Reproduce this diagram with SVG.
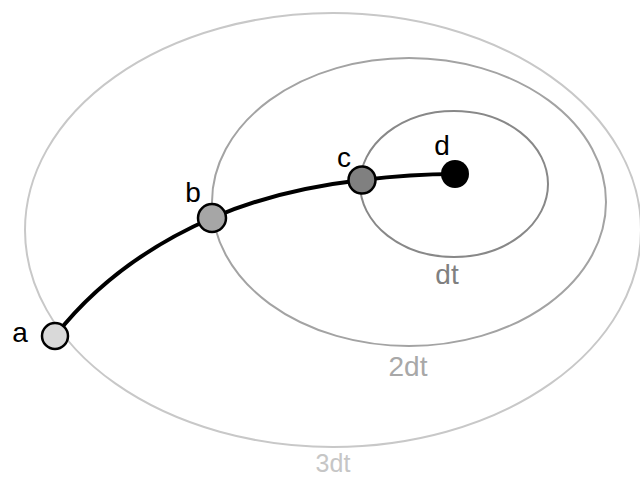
<svg xmlns="http://www.w3.org/2000/svg" width="640" height="479" viewBox="0 0 640 479">
<style>
.ring{fill:none;stroke-width:2}
.lbl{font-family:"Liberation Sans",Arial,sans-serif;font-size:28px;text-anchor:middle}
.node{stroke:#000;stroke-width:2.5}
</style>
<rect width="640" height="479" fill="#fff"/>
<g id="rings">
<ellipse class="ring" cx="333" cy="230" rx="308" ry="217" stroke="#c8c8c8"/>
<ellipse class="ring" cx="409" cy="202" rx="197" ry="144" stroke="#a3a3a3"/>
<ellipse class="ring" cx="454" cy="184" rx="94" ry="73" stroke="#888"/>
<text class="lbl" x="447" y="284" fill="#808080">dt</text>
<text class="lbl" x="408" y="376" fill="#a8a8a8">2dt</text>
<text class="lbl" x="333" y="472" fill="#c6c6c6" style="font-size:25px">3dt</text>
</g>
<g id="connectors">
<path d="M55,336 C95,285 150,245 212,218 C260,197 310,186 362,180 C395,176 425,174 455,174" fill="none" stroke="#000" stroke-width="4"/>
</g>
<g id="a"><circle class="node" cx="55" cy="336" r="13" fill="#d9d9d9"/><text class="lbl" x="20" y="342">a</text></g>
<g id="b"><circle class="node" cx="212" cy="218" r="14" fill="#a6a6a6"/><text class="lbl" x="193" y="202">b</text></g>
<g id="c"><circle class="node" cx="362" cy="180" r="13.5" fill="#808080"/><text class="lbl" x="344" y="167">c</text></g>
<g id="d"><circle cx="455" cy="174" r="14" fill="#000"/><text class="lbl" x="442" y="155">d</text></g>
</svg>
